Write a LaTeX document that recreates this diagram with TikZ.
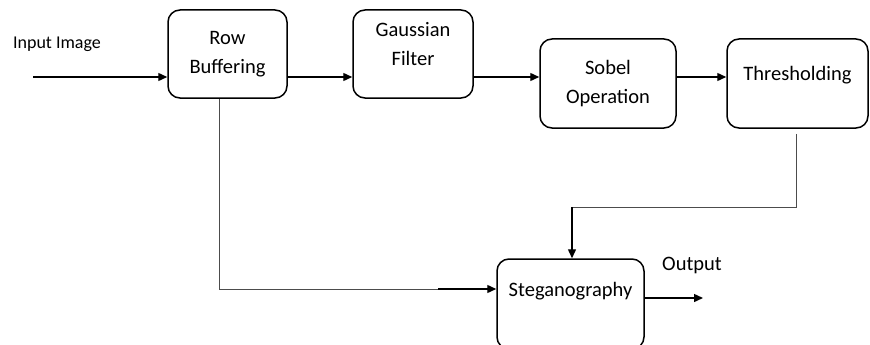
\documentclass[tikz,border=0pt]{standalone}
\usepackage{fontspec}
\setmainfont{Carlito}
\usetikzlibrary{arrows.meta}
\begin{document}
\begin{tikzpicture}[x=1pt,y=-1pt,
	box/.style={draw,line width=1.5pt,rounded corners=12pt,align=center,font=\fontsize{20.5}{29}\selectfont},
	lbl/.style={font=\fontsize{18}{21}\selectfont},
	flow/.style={line width=1.4pt,-{Triangle[length=9pt,width=8pt]}},
	feed/.style={gray!60!black,line width=0.8pt}]
	\useasboundingbox (0,0) rectangle (870,345);
	%input
	\coordinate (in) at (33,77);
	\node[lbl] (inlbl) at (57,44) {Input Image};
	%blocks
	\node[box,minimum width=119pt,minimum height=88pt] (rowbuf) at (227.5,54) {Row\\Buffering};
	\node[box,minimum width=120pt,minimum height=88pt,text depth=20pt] (gauss) at (413,54) {Gaussian\\Filter};
	\node[box,minimum width=136pt,minimum height=89pt] (sobel) at (608,83.5) {Sobel\\Operation};
	\node[box,minimum width=141pt,minimum height=89pt,text depth=20pt] (thresh) at (797.5,83.5) {Thresholding};
	\node[box,minimum width=147pt,minimum height=90pt,text depth=30pt] (stego) at (570.5,304) {Steganography};
	%main chain
	\draw[flow] (in) -- (in -| rowbuf.west);
	\draw[flow] (in -| rowbuf.east) -- (in -| gauss.west);
	\draw[flow] (in -| gauss.east) -- (in -| sobel.west);
	\draw[flow] (in -| sobel.east) -- (in -| thresh.west);
	%row buffering to steganography
	\coordinate (rb) at (219,289);
	\coordinate (rbend) at (438,289);
	\draw[feed] (rowbuf.south -| rb) -- (rb) -- (rbend);
	\draw[flow] (rbend) -- (rbend -| stego.west);
	%thresholding to steganography
	\coordinate (th) at (796,207);
	\coordinate (thbend) at (572,207);
	\draw[feed] ([yshift=-5pt]thresh.south -| th) -- (th) -- (thbend);
	\draw[flow] (thbend) -- (thbend |- stego.north);
	%output
	\coordinate (out) at (703,298);
	\draw[flow] (out -| stego.east) -- (out);
	\node[lbl,font=\fontsize{20.5}{24}\selectfont] (outlbl) at (692,265) {Output};
\end{tikzpicture}
\end{document}
